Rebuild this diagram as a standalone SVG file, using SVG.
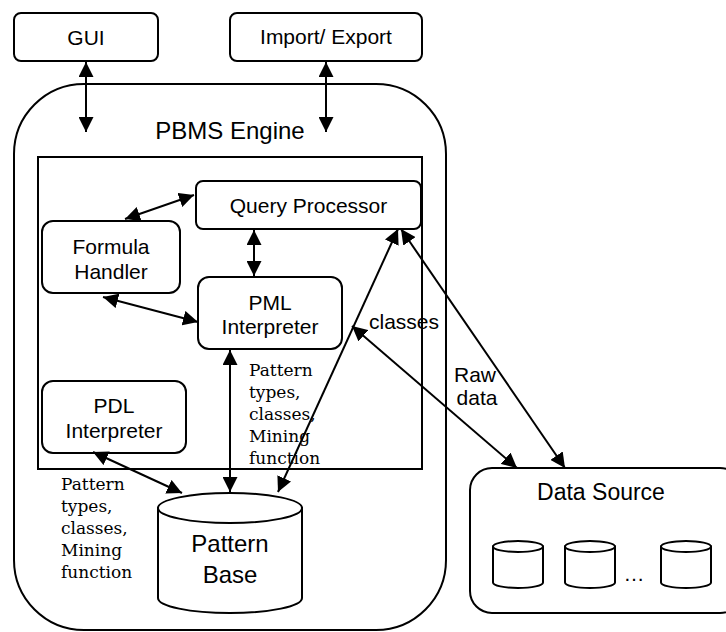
<svg xmlns="http://www.w3.org/2000/svg" width="726" height="632" viewBox="0 0 726 632">
  <style>
    .box { fill: #fff; stroke: #000; stroke-width: 2; }
    .frame { fill: none; stroke: #000; stroke-width: 2; }
    .lbl { font-family: "Liberation Sans", Arial, sans-serif; font-size: 21px; fill: #000; text-anchor: middle; }
    .big { font-size: 24px; }
    .note { font-family: "DejaVu Serif", "Liberation Serif", serif; font-size: 17px; fill: #000; }
    .link { stroke: #000; stroke-width: 2; fill: none; marker-start: url(#head); marker-end: url(#head); }
  </style>
  <defs>
    <marker id="head" viewBox="0 0 15 15" refX="15" refY="7.5" markerWidth="15" markerHeight="15" markerUnits="userSpaceOnUse" orient="auto-start-reverse">
      <path d="M0,0 L15,7.5 L0,15 z" fill="#000"/>
    </marker>
  </defs>

  <rect width="726" height="632" fill="#fff"/>

  <!-- engine container -->
  <g id="pbms-engine">
    <rect class="frame" x="14" y="84" width="432" height="546" rx="70"/>
    <text class="lbl big" x="230" y="139">PBMS Engine</text>
    <rect class="frame" x="38" y="157" width="384" height="312"/>
  </g>

  <g id="gui">
    <rect class="box" x="14" y="13" width="144" height="48" rx="7"/>
    <text class="lbl" x="86" y="45">GUI</text>
  </g>

  <g id="import-export">
    <rect class="box" x="230" y="13" width="192" height="48" rx="7"/>
    <text class="lbl" x="326" y="44">Import/ Export</text>
  </g>

  <g id="query-processor">
    <rect class="box" x="196" y="181" width="225" height="48" rx="7"/>
    <text class="lbl" x="308.5" y="213">Query Processor</text>
  </g>

  <g id="formula-handler">
    <rect class="box" x="42" y="221" width="138" height="72" rx="11"/>
    <text class="lbl" x="111" y="254">Formula</text>
    <text class="lbl" x="111" y="279">Handler</text>
  </g>

  <g id="pml-interpreter">
    <rect class="box" x="198" y="277" width="144" height="72" rx="11"/>
    <text class="lbl" x="270" y="310">PML</text>
    <text class="lbl" x="270" y="334">Interpreter</text>
  </g>

  <g id="pdl-interpreter">
    <rect class="box" x="42" y="381" width="144" height="72" rx="11"/>
    <text class="lbl" x="114" y="413">PDL</text>
    <text class="lbl" x="114" y="438">Interpreter</text>
  </g>

  <g id="pattern-base">
    <path class="box" d="M158,508 L158,598 A72,15 0 0 0 302,598 L302,508 Z"/>
    <ellipse class="box" cx="230" cy="508" rx="72" ry="15"/>
    <text class="lbl big" x="230" y="552">Pattern</text>
    <text class="lbl big" x="230" y="583">Base</text>
  </g>

  <g id="data-source">
    <rect class="box" x="470" y="468" width="272" height="145" rx="22"/>
    <text class="lbl" x="601" y="500" style="font-size:23px">Data Source</text>
    <g id="store-1">
      <path class="box" d="M493,546.5 L493,582.5 A25,5.5 0 0 0 543,582.5 L543,546.5 Z"/>
      <ellipse class="box" cx="518" cy="546.5" rx="25" ry="5.5"/>
    </g>
    <g id="store-2">
      <path class="box" d="M565,546.5 L565,582.5 A25,5.5 0 0 0 615,582.5 L615,546.5 Z"/>
      <ellipse class="box" cx="590" cy="546.5" rx="25" ry="5.5"/>
    </g>
    <text class="lbl" x="634" y="581">…</text>
    <g id="store-3">
      <path class="box" d="M661,546.5 L661,582.5 A25,5.5 0 0 0 711,582.5 L711,546.5 Z"/>
      <ellipse class="box" cx="686" cy="546.5" rx="25" ry="5.5"/>
    </g>
  </g>

  <!-- connectors -->
  <g id="connectors">
    <line class="link" x1="86" y1="62" x2="86" y2="132"/>
    <line class="link" x1="326" y1="62" x2="326" y2="132"/>
    <line class="link" x1="125" y1="219" x2="194" y2="195"/>
    <line class="link" x1="254" y1="230" x2="254" y2="276"/>
    <line class="link" x1="103" y1="297" x2="198" y2="322"/>
    <line class="link" x1="230" y1="350" x2="230" y2="492"/>
    <line class="link" x1="93" y1="452" x2="182" y2="493"/>
    <line class="link" x1="278" y1="492" x2="398" y2="229"/>
    <line class="link" x1="401" y1="229" x2="565" y2="468"/>
    <line class="link" x1="352" y1="326" x2="517" y2="468"/>
  </g>

  <!-- connector labels -->
  <g id="labels">
    <text class="lbl" x="404" y="329">classes</text>
    <text class="lbl" x="475" y="382">Raw</text>
    <text class="lbl" x="477" y="405">data</text>
    <text class="note" x="249"><tspan x="249" y="376">Pattern</tspan><tspan x="249" y="398">types,</tspan><tspan x="249" y="420">classes,</tspan><tspan x="249" y="442">Mining</tspan><tspan x="249" y="464">function</tspan></text>
    <text class="note" x="61"><tspan x="61" y="490">Pattern</tspan><tspan x="61" y="512">types,</tspan><tspan x="61" y="534">classes,</tspan><tspan x="61" y="556">Mining</tspan><tspan x="61" y="578">function</tspan></text>
  </g>
</svg>
